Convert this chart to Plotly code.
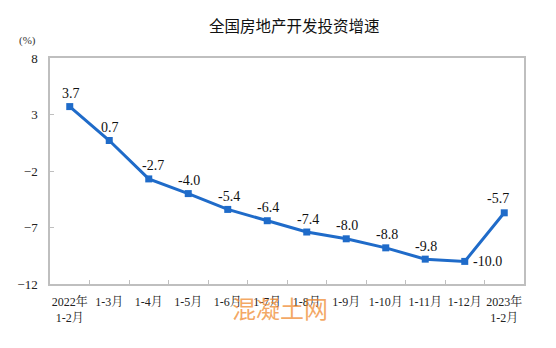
import plotly.graph_objects as go

categories = ["2022年<br>1-2月", "1-3月", "1-4月", "1-5月", "1-6月", "1-7月",
              "1-8月", "1-9月", "1-10月", "1-11月", "1-12月", "2023年<br>1-2月"]
values = [3.7, 0.7, -2.7, -4.0, -5.4, -6.4, -7.4, -8.0, -8.8, -9.8, -10.0, -5.7]
labels = ["3.7", "0.7", "-2.7", "-4.0", "-5.4", "-6.4", "-7.4", "-8.0", "-8.8", "-9.8", "-10.0", "-5.7"]
y_ticks = [8, 3, -2, -7, -12]

W, H = 556, 348
L, R, T, B = 49.5, 524, 58, 284

fig = go.Figure()
fig.add_trace(go.Scatter(
    x=categories, y=values, mode="lines+markers",
    line=dict(color="#1f6bc9", width=3),
    marker=dict(symbol="square", size=7, color="#1f6bc9"),
    hoverinfo="skip", showlegend=False,
))

serif = '"Liberation Serif", "Times New Roman", "Noto Serif CJK SC", "Noto Sans CJK SC", serif'
annotations = []
for i, (c, v, t) in enumerate(zip(categories, values, labels)):
    if t == "-10.0":
        xs, ys = 23, 0
    elif t == "-5.7":
        xs, ys = -6, 14
    elif t == "-2.7":
        xs, ys = 4, 13
    else:
        xs, ys = 1, 13
    annotations.append(dict(x=c, y=v, text=t, showarrow=False, xshift=xs, yshift=ys,
                            font=dict(family=serif, size=14, color="#111111")))

annotations.append(dict(xref="paper", yref="paper", x=(294 - L) / (R - L), y=(H - 25 - (H - B)) / (B - T),
                        text="全国房地产开发投资增速", showarrow=False,
                        font=dict(family="Noto Sans CJK SC", size=15.5, color="#111111"),
                        xanchor="center", yanchor="middle"))
annotations.append(dict(xref="paper", yref="paper", x=(27 - L) / (R - L), y=(B - 40) / (B - T),
                        text="(%)", showarrow=False,
                        font=dict(family=serif, size=11, color="#333333"),
                        xanchor="center", yanchor="middle"))
annotations.append(dict(xref="paper", yref="paper", x=(280 - L) / (R - L), y=(B - 307) / (B - T),
                        text="混凝土网", showarrow=False,
                        font=dict(family="Noto Sans CJK SC", size=24, color="rgba(240,140,50,0.75)"),
                        xanchor="center", yanchor="middle"))

fig.update_layout(
    width=W, height=H,
    margin=dict(l=L, r=W - R, t=T, b=H - B, pad=0),
    paper_bgcolor="white", plot_bgcolor="white",
    annotations=annotations,
    xaxis=dict(type="category", showline=True, mirror=True, linecolor="#bfbfbf", linewidth=1.5,
               ticks="inside", ticklen=4, tickcolor="#bfbfbf", tickson="boundaries",
               showgrid=False, zeroline=False, range=[-0.5, len(categories) - 0.5],
               tickangle=0, ticklabelstandoff=6,
               tickfont=dict(family=serif, size=12, color="#222222")),
    yaxis=dict(range=[-12, 8], tickvals=y_ticks, showline=True, mirror=True,
               linecolor="#bfbfbf", linewidth=1.5, ticks="inside", ticklen=4, tickcolor="#bfbfbf",
               showgrid=False, zeroline=False, ticklabelstandoff=8,
               tickfont=dict(family=serif, size=13, color="#222222")),
)

fig.write_html("out.html")
